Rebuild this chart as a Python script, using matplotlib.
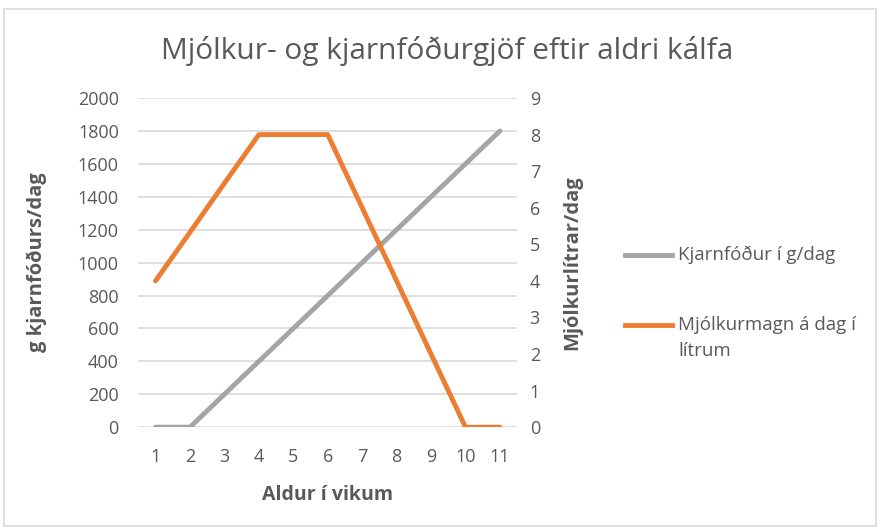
import matplotlib.pyplot as plt
from matplotlib.patches import Rectangle
from matplotlib.lines import Line2D

# Data
weeks = [1, 2, 3, 4, 5, 6, 7, 8, 9, 10, 11]
kjarnfodur = [0, 0, 200, 400, 600, 800, 1000, 1200, 1400, 1600, 1800]
mjolk = [4, 5.33, 6.67, 8, 8, 8, 6, 4, 2, 0, 0]

left_ticks = [0, 200, 400, 600, 800, 1000, 1200, 1400, 1600, 1800, 2000]
right_ticks = [0, 1, 2, 3, 4, 5, 6, 7, 8, 9]
legend_labels = ['Kjarnfóður í g/dag', 'Mjólkurmagn á dag í\nlítrum']

txt = '#595959'
gray = '#a5a5a5'
orange = '#ed7d31'
plt.rcParams['font.family'] = ['Open Sans', 'DejaVu Sans']

fig = plt.figure(figsize=(8.81, 5.30), dpi=100)
fig.patches.append(Rectangle((0.004, 0.008), 0.99, 0.975, transform=fig.transFigure,
                             fill=False, edgecolor='#d9d9d9', linewidth=1.2))

ax = fig.add_axes([0.157, 0.194, 0.430, 0.621])
ax2 = ax.twinx()

ax.set_xlim(0.5, 11.5)
ax.set_ylim(0, 2000)
ax2.set_ylim(0, 9)
ax.set_yticks(left_ticks)
ax2.set_yticks(right_ticks)
ax.set_xticks(weeks)

ax.grid(axis='y', color='#d9d9d9', linewidth=1.2)
ax.set_axisbelow(True)
for a in (ax, ax2):
    for s in a.spines.values():
        s.set_visible(False)
    a.tick_params(length=0, labelsize=13, labelcolor=txt)
ax.tick_params(axis='y', pad=14)
ax2.tick_params(axis='y', pad=9)
ax.tick_params(axis='x', pad=15)

l1, = ax.plot(weeks, kjarnfodur, color=gray, linewidth=3.5, solid_capstyle='round')
l2, = ax2.plot(weeks, mjolk, color=orange, linewidth=3.5, solid_capstyle='round')

ax.set_xlabel('Aldur í vikum', fontsize=14, fontweight='bold', color=txt, labelpad=14)
ax.set_ylabel('g kjarnfóðurs/dag', fontsize=14.5, fontweight='bold', color=txt, labelpad=22)
ax2.set_ylabel('Mjólkurlítrar/dag', fontsize=14.5, fontweight='bold', color=txt, labelpad=16)

fig.text(0.508, 0.903, 'Mjólkur- og kjarnfóðurgjöf eftir aldri kálfa', fontsize=21.5,
         color=txt, ha='center', va='center')

# Legend drawn by hand so the orange marker lines up with the first text line
W, H = 881, 530
for (yy, col, lab) in [(255, gray, legend_labels[0]), (325, orange, legend_labels[1])]:
    fig.add_artist(Line2D([625 / W, 672 / W], [1 - yy / H, 1 - yy / H],
                          transform=fig.transFigure, color=col, linewidth=3.5))
    fig.text(678 / W, 1 - (yy - 9) / H, lab, fontsize=13.5, color=txt,
             ha='left', va='top', linespacing=1.6)

fig.savefig('out.png', dpi=100, facecolor='white')
